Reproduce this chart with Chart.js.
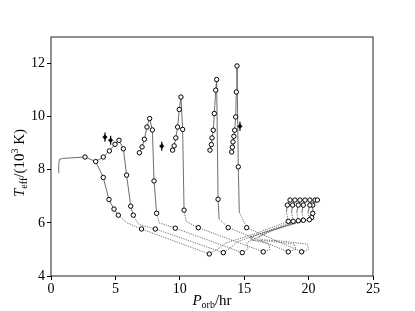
<!DOCTYPE html>
<html>
<head>
<meta charset="utf-8">
<script src="https://cdn.jsdelivr.net/npm/chart.js@4"></script>
<style>
  html, body { margin:0; padding:0; background:#fff; }
</style>
</head>
<body>
<canvas id="myChart" width="415" height="311"></canvas>
<script>
// evolution tracks: [P_orb (hr), T_eff (10^3 K), 1 = model snapshot marked]
let trackA = [
    [0.57,7.88,0],[0.6,8.2,0],[0.66,8.4,0],[1.0,8.43,0],[2.64,8.48,1],[3.47,8.31,1],
    [4.06,7.71,1],[4.5,6.88,1],[4.89,6.52,1],[5.23,6.29,1],[5.9,6.0,0],[7.03,5.77,1],
    [12.29,4.83,1],[12.9,5.0,0],[13.6,5.25,0],[16.0,5.62,0],[18.42,6.06,1],
    [18.28,6.4,0],[18.35,6.67,1],[18.56,6.86,1]
];
let trackB = [
    [3.47,8.31,0],[4.06,8.48,1],[4.53,8.71,1],[4.97,8.96,1],[5.28,9.11,1],[5.62,8.79,1],
    [5.87,7.8,1],[6.19,6.63,1],[6.39,6.29,1],[6.8,5.95,0],[8.1,5.77,1],
    [13.38,4.88,1],[13.9,5.05,0],[14.5,5.3,0],[16.6,5.65,0],[18.8,6.06,1],
    [18.68,6.4,0],[18.76,6.67,1],[18.94,6.86,1]
];
let trackC = [
    [6.86,8.64,1],[7.07,8.86,1],[7.25,9.15,1],[7.45,9.61,1],[7.66,9.93,1],[7.87,9.5,1],
    [8.0,7.58,1],[8.2,6.36,1],[8.4,6.0,0],[9.65,5.8,1],
    [14.85,4.88,1],[15.3,5.02,0],[15.2,5.25,0],[16.0,5.45,0],[17.2,5.72,0],[19.2,6.08,1],
    [19.08,6.4,0],[19.2,6.67,1],[19.33,6.86,1]
];
let trackD = [
    [9.44,8.74,1],[9.56,8.9,1],[9.69,9.2,1],[9.83,9.61,1],[9.96,10.27,1],[10.09,10.74,1],
    [10.22,9.52,1],[10.33,6.48,1],[10.5,6.05,0],[11.44,5.82,1],
    [16.48,4.91,1],[17.0,5.0,0],[16.9,5.22,0],[15.6,5.35,0],[15.4,5.45,0],[16.4,5.62,0],
    [19.59,6.1,1],[19.48,6.4,0],[19.59,6.67,1],[19.72,6.86,1]
];
let trackE = [
    [12.34,8.74,1],[12.45,8.95,1],[12.5,9.2,1],[12.6,9.49,1],[12.68,10.12,1],[12.79,11.0,1],
    [12.86,11.4,1],[12.97,6.89,1],[13.05,6.15,0],[13.76,5.82,1],
    [18.42,4.91,1],[19.0,5.0,0],[18.9,5.2,0],[17.2,5.3,0],[15.6,5.36,0],[15.5,5.46,0],
    [16.6,5.65,0],[20.06,6.12,1],[19.95,6.4,0],[20.1,6.67,1],[20.1,6.86,1]
];
let trackF = [
    [14.03,8.67,1],[14.08,8.85,1],[14.13,9.05,1],[14.2,9.26,1],[14.26,9.49,1],[14.34,9.99,1],
    [14.39,10.93,1],[14.44,11.91,1],[14.54,8.11,1],[14.62,6.4,0],[15.19,5.82,1],
    [19.46,4.91,1],[20.0,5.0,0],[19.9,5.2,0],[18.2,5.3,0],[16.3,5.37,0],[16.1,5.47,0],
    [17.0,5.68,0],[20.24,6.2,1],[20.32,6.36,1],[20.32,6.67,1],[20.5,6.86,1],[20.68,6.86,1]
];
let tracks = [trackA, trackB, trackC, trackD, trackE, trackF];

// observed systems with T_eff error
let obsP = [4.19, 4.63, 8.6, 14.67];
let obsT = [9.23, 9.11, 8.89, 9.64];
let obsErr = [0.17, 0.17, 0.17, 0.17];

let xTicks = [0, 5, 10, 15, 20, 25];
let yTicks = [4, 6, 8, 10, 12];

let serif = "'Liberation Serif', 'DejaVu Serif', serif";

let datasets = [{
    label: 'obs',
    data: obsP.map((p, i) => ({x: p, y: obsT[i]})),
    showLine: false,
    pointStyle: 'rectRot',
    pointRadius: 2.3,
    backgroundColor: '#000',
    borderColor: '#000',
    borderWidth: 0.5
}];

tracks.forEach((t, k) => {
    datasets.push({
        label: 'track' + k,
        data: t.map(p => ({x: p[0], y: p[1], m: p[2]})),
        showLine: true,
        borderColor: '#4a4a4a',
        borderWidth: 0.8,
        backgroundColor: '#fff',
        pointBorderColor: '#000',
        pointBorderWidth: 1,
        pointRadius: ctx => (ctx.raw && ctx.raw.m ? 2.2 : 0),
        segment: {
            borderDash: ctx => Math.max(ctx.p0.parsed.y, ctx.p1.parsed.y) < 6.5 ? [1.2, 1.2] : undefined
        }
    });
});

// error bars + frame + axis titles
let extras = {
    id: 'extras',
    afterDatasetsDraw(chart) {
        let c = chart.ctx, xs = chart.scales.x, ys = chart.scales.y;
        c.save();
        c.strokeStyle = '#000';
        c.lineWidth = 1.2;
        obsP.forEach((p, i) => {
            let px = xs.getPixelForValue(p);
            c.beginPath();
            c.moveTo(px, ys.getPixelForValue(obsT[i] - obsErr[i]));
            c.lineTo(px, ys.getPixelForValue(obsT[i] + obsErr[i]));
            c.stroke();
        });
        let a = chart.chartArea;
        c.lineWidth = 1;
        c.strokeStyle = '#222';
        c.strokeRect(a.left, a.top, a.right - a.left, a.bottom - a.top);
        c.restore();
    },
    afterDraw(chart) {
        let c = chart.ctx, a = chart.chartArea;
        let drawRich = (parts, cx, cy) => {
            let w = 0;
            parts.forEach(pt => { c.font = pt.f; w += c.measureText(pt.t).width; });
            let x = cx - w / 2;
            parts.forEach(pt => {
                c.font = pt.f;
                c.fillText(pt.t, x, cy + pt.dy);
                x += c.measureText(pt.t).width;
            });
        };
        c.save();
        c.fillStyle = '#000';
        c.textBaseline = 'alphabetic';
        drawRich([
            {t: 'P', f: 'italic 15px ' + serif, dy: 0},
            {t: 'orb', f: '10px ' + serif, dy: 3},
            {t: '/hr', f: '15px ' + serif, dy: 0}
        ], (a.left + a.right) / 2, 305);
        c.translate(24, 163);
        c.rotate(-Math.PI / 2);
        drawRich([
            {t: 'T', f: 'italic 15px ' + serif, dy: 0},
            {t: 'eff', f: '10px ' + serif, dy: 3},
            {t: '/(10', f: '15px ' + serif, dy: 0},
            {t: '3', f: '10px ' + serif, dy: -6},
            {t: ' K)', f: '15px ' + serif, dy: 0}
        ], 0, 0);
        c.restore();
    }
};

let myChart = document.getElementById('myChart').getContext('2d');

let tracksChart = new Chart(myChart, {
    type: 'scatter',
    data: { datasets: datasets },
    options: {
        responsive: false,
        animation: false,
        layout: { padding: { top: 37, right: 42, left: 0, bottom: 0 } },
        plugins: {
            legend: { display: false },
            tooltip: { enabled: false }
        },
        scales: {
            x: {
                type: 'linear',
                min: 0, max: 25,
                afterFit: s => { s.height = 35; },
                afterBuildTicks: s => { s.ticks = xTicks.map(v => ({value: v})); },
                grid: { drawOnChartArea: false, drawTicks: true, tickLength: 4, color: '#000' },
                border: { display: false },
                ticks: { color: '#000', padding: 1, maxRotation: 0, font: { family: serif, size: 14 } }
            },
            y: {
                type: 'linear',
                min: 4, max: 13,
                afterFit: s => { s.width = 51; },
                afterBuildTicks: s => { s.ticks = yTicks.map(v => ({value: v})); },
                grid: { drawOnChartArea: false, drawTicks: true, tickLength: 4, color: '#000' },
                border: { display: false },
                ticks: { color: '#000', padding: 2, font: { family: serif, size: 14 } }
            }
        }
    },
    plugins: [extras]
});
</script>
</body>
</html>
